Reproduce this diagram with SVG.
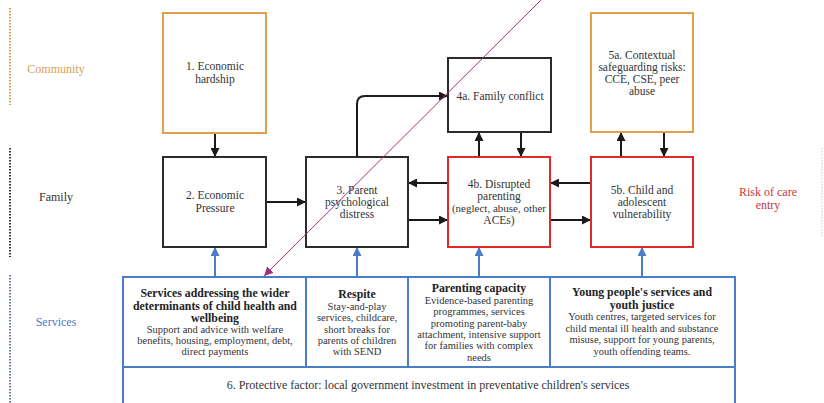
<svg xmlns="http://www.w3.org/2000/svg" width="824" height="403" viewBox="0 0 824 403" font-family="'Liberation Serif', 'DejaVu Serif', serif">
<defs>
<style>
text{font-family:'Liberation Serif','DejaVu Serif',serif;fill:#333;}
.t{font-size:11.5px;text-anchor:middle;}
.b{font-size:11.8px;font-weight:bold;text-anchor:middle;fill:#222;}
.s{font-size:10.5px;text-anchor:middle;}
.box{fill:#fff;stroke:#2b2b2b;stroke-width:2;}
.org{fill:#fff;stroke:#e0a050;stroke-width:2;}
.red{fill:#fff;stroke:#e02a2a;stroke-width:2;}
.svc{fill:#fff;stroke:#4a7cc7;stroke-width:2;}
.k{stroke:#1a1a1a;stroke-width:2;fill:none;marker-end:url(#ak);}
.bl{stroke:#4a7cc7;stroke-width:2;fill:none;marker-end:url(#ab);}
</style>
<marker id="ak" viewBox="0 0 10 10" refX="10" refY="5" markerWidth="9" markerHeight="9" markerUnits="userSpaceOnUse" orient="auto"><path d="M0,0 L10,5 L0,10 z" fill="#1a1a1a"/></marker>
<marker id="ab" viewBox="0 0 10 10" refX="10" refY="5" markerWidth="9" markerHeight="9" markerUnits="userSpaceOnUse" orient="auto"><path d="M0,0 L10,5 L0,10 z" fill="#4a7cc7"/></marker>
<marker id="am" viewBox="0 0 10 10" refX="10" refY="5" markerWidth="9" markerHeight="9" markerUnits="userSpaceOnUse" orient="auto"><path d="M0,0 L10,5 L0,10 z" fill="#a0307a"/></marker>
</defs>
<rect width="824" height="403" fill="#fff"/>

<g id="lanes">
<line x1="10" y1="8" x2="10" y2="105" stroke="#e0a050" stroke-width="2" stroke-dasharray="1.5 1.5"/>
<text x="56" y="73" font-size="12" text-anchor="middle" style="fill:#d9a055">Community</text>
<line x1="10" y1="148" x2="10" y2="257" stroke="#333" stroke-width="2" stroke-dasharray="1.5 1.5"/>
<text x="56" y="201" font-size="12" text-anchor="middle">Family</text>
<line x1="10" y1="275" x2="10" y2="403" stroke="#6a7fa0" stroke-width="2" stroke-dasharray="1.5 1.5"/>
<text x="56" y="326" font-size="12" text-anchor="middle" style="fill:#4a7cc7">Services</text>
<line x1="822" y1="148" x2="822" y2="238" stroke="#ecd6d6" stroke-width="1.5" stroke-dasharray="1.5 1.5"/>
<text x="768" y="196" font-size="12" text-anchor="middle" style="fill:#c8383a">Risk of care</text>
<text x="768" y="209" font-size="12" text-anchor="middle" style="fill:#c8383a">entry</text>
</g>

<g id="connectors">
<line x1="215" y1="133" x2="215" y2="157" class="k"/>
<line x1="266" y1="202" x2="306" y2="202" class="k"/>
<line x1="448" y1="183" x2="408" y2="183" class="k"/>
<line x1="408" y1="220" x2="448" y2="220" class="k"/>
<line x1="591" y1="183" x2="550" y2="183" class="k"/>
<line x1="550" y1="220" x2="591" y2="220" class="k"/>
<path d="M357,157 L357,104 Q357,96 365,96 L448,96" class="k"/>
<line x1="479" y1="157" x2="479" y2="132" class="k"/>
<line x1="521" y1="132" x2="521" y2="157" class="k"/>
<line x1="621" y1="157" x2="621" y2="132" class="k"/>
<line x1="664" y1="132" x2="664" y2="157" class="k"/>
<line x1="215" y1="277" x2="215" y2="247" class="bl"/>
<line x1="357" y1="277" x2="357" y2="247" class="bl"/>
<line x1="479" y1="277" x2="479" y2="247" class="bl"/>
<line x1="642" y1="277" x2="642" y2="247" class="bl"/>
</g>

<g id="n1"><rect x="163" y="13" width="103" height="120" class="org"/>
<text x="215" y="70" class="t">1. Economic</text><text x="215" y="83" class="t">hardship</text></g>
<g id="n2"><rect x="163" y="157" width="103" height="90" class="box"/>
<text x="215" y="199" class="t">2. Economic</text><text x="215" y="212" class="t">Pressure</text></g>
<g id="n3"><rect x="306" y="157" width="102" height="90" class="box"/>
<text x="357" y="194" class="t">3. Parent</text><text x="357" y="206" class="t">psychological</text><text x="357" y="218" class="t">distress</text></g>
<g id="n4a"><rect x="448" y="58" width="103" height="74" class="box"/>
<text x="500" y="100" class="t">4a. Family conflict</text></g>
<g id="n4b"><rect x="448" y="157" width="102" height="90" class="red"/>
<text x="499" y="188" class="t">4b. Disrupted</text><text x="499" y="200" class="t">parenting</text><text x="499" y="212" class="t" style="font-size:11px">(neglect, abuse, other</text><text x="499" y="224" class="t">ACEs)</text></g>
<g id="n5a"><rect x="591" y="13" width="102" height="119" class="org"/>
<text x="642" y="59" class="t">5a. Contextual</text><text x="642" y="71" class="t">safeguarding risks:</text><text x="642" y="83" class="t">CCE, CSE, peer</text><text x="642" y="95" class="t">abuse</text></g>
<g id="n5b"><rect x="591" y="157" width="102" height="90" class="red"/>
<text x="642" y="194" class="t">5b. Child and</text><text x="642" y="206" class="t">adolescent</text><text x="642" y="218" class="t">vulnerability</text></g>

<g id="services">
<rect x="123" y="277" width="612" height="130" class="svc"/>
<line x1="123" y1="367" x2="735" y2="367" stroke="#4a7cc7" stroke-width="2"/>
<line x1="306" y1="277" x2="306" y2="367" stroke="#4a7cc7" stroke-width="2"/>
<line x1="408" y1="277" x2="408" y2="367" stroke="#4a7cc7" stroke-width="2"/>
<line x1="550" y1="277" x2="550" y2="367" stroke="#4a7cc7" stroke-width="2"/>
</g>
<g id="s1">
<text x="215" y="297" class="b">Services addressing the wider</text>
<text x="215" y="309.5" class="b">determinants of child health and</text>
<text x="215" y="322" class="b">wellbeing</text>
<text x="215" y="333" class="s">Support and advice with welfare</text>
<text x="215" y="344" class="s">benefits, housing, employment, debt,</text>
<text x="215" y="355" class="s">direct payments</text>
</g>
<g id="s2">
<text x="357" y="298" class="b">Respite</text>
<text x="357" y="310" class="s">Stay-and-play</text>
<text x="357" y="321" class="s">services, childcare,</text>
<text x="357" y="333" class="s">short breaks for</text>
<text x="357" y="344" class="s">parents of children</text>
<text x="357" y="355" class="s">with SEND</text>
</g>
<g id="s3">
<text x="479" y="292" class="b">Parenting capacity</text>
<text x="479" y="304" class="s">Evidence-based parenting</text>
<text x="479" y="315" class="s">programmes, services</text>
<text x="479" y="327" class="s">promoting parent-baby</text>
<text x="479" y="338" class="s">attachment, intensive support</text>
<text x="479" y="349" class="s">for families with complex</text>
<text x="479" y="361" class="s">needs</text>
</g>
<g id="s4">
<text x="642" y="296" class="b">Young people's services and</text>
<text x="642" y="308.5" class="b">youth justice</text>
<text x="642" y="320" class="s">Youth centres, targeted services for</text>
<text x="642" y="332" class="s">child mental ill health and substance</text>
<text x="642" y="343" class="s">misuse, support for young parents,</text>
<text x="642" y="355" class="s">youth offending teams.</text>
</g>
<g id="n6">
<text x="428" y="389" font-size="12" text-anchor="middle">6. Protective factor: local government investment in preventative children's services</text>
</g>

<g id="annotation">
<line x1="543" y1="-2" x2="264" y2="276" stroke="#a0307a" stroke-width="1" marker-end="url(#am)"/>
</g>
</svg>
